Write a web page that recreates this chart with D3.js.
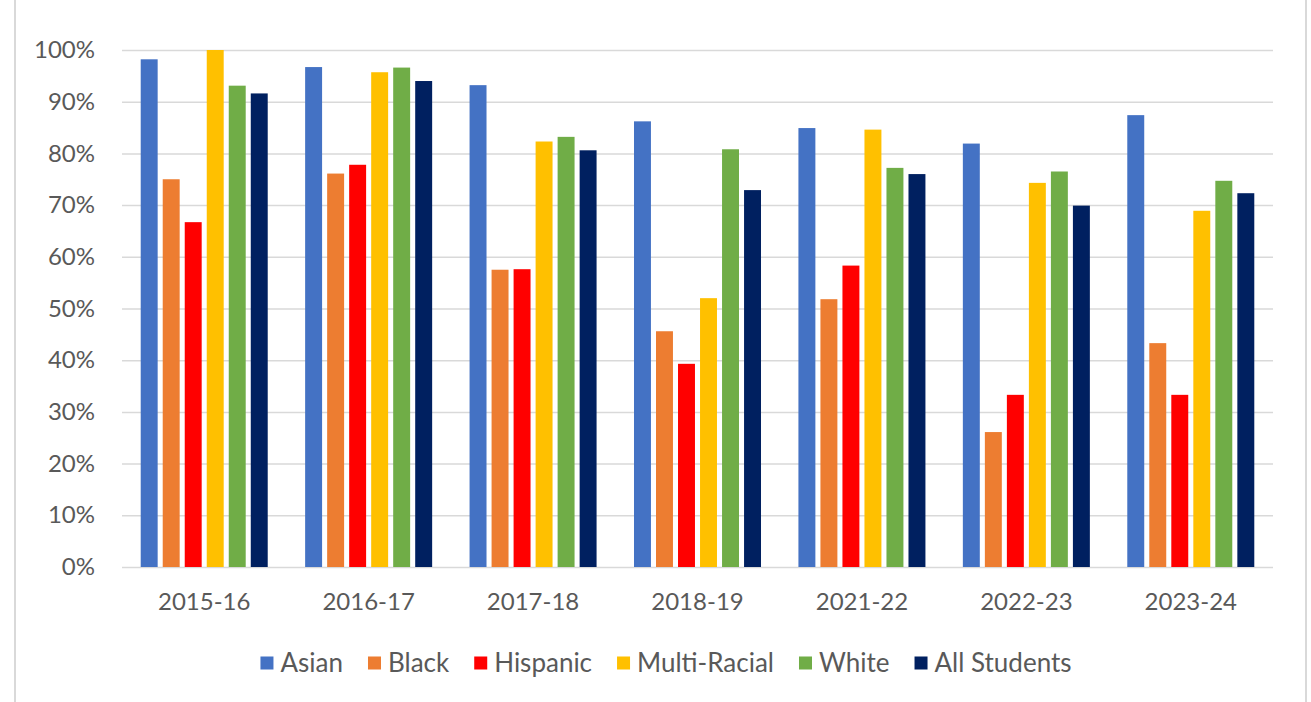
<!DOCTYPE html>
<html>
<head>
<meta charset="utf-8">
<script src="https://cdn.jsdelivr.net/npm/d3@7"></script>
<style>
  html, body { margin: 0; padding: 0; background: #ffffff; }
  .container { width: 1311px; height: 702px; }
  text { font-family: Lato, "Open Sans", sans-serif; fill: #595959; }
</style>
</head>
<body>
<div class="container"></div>
<script>
const WIDTH = 1311;
const HEIGHT = 702;
const PLOT_LEFT = 122;
const PLOT_RIGHT = 1273;
const PLOT_TOP = 50;
const PLOT_BOTTOM = 567;
const GRID_COLOR = "#d9d9d9";

// chart data
const years = ["2015-16", "2016-17", "2017-18", "2018-19", "2021-22", "2022-23", "2023-24"];
const groups = ["Asian", "Black", "Hispanic", "Multi-Racial", "White", "All Students"];
const colors = ["#4472c4", "#ed7d31", "#ff0000", "#ffc000", "#70ad47", "#002060"];

const asian       = [0.982, 0.967, 0.932, 0.862, 0.849, 0.819, 0.874];
const black       = [0.750, 0.761, 0.575, 0.456, 0.518, 0.261, 0.433];
const hispanic    = [0.667, 0.778, 0.576, 0.393, 0.583, 0.333, 0.333];
const multiRacial = [1.000, 0.957, 0.823, 0.520, 0.846, 0.743, 0.689];
const white       = [0.931, 0.966, 0.832, 0.808, 0.772, 0.765, 0.747];
const allStudents = [0.916, 0.940, 0.806, 0.729, 0.760, 0.699, 0.723];

const yTicks = [0, 0.1, 0.2, 0.3, 0.4, 0.5, 0.6, 0.7, 0.8, 0.9, 1.0];

var seriesValues = [asian, black, hispanic, multiRacial, white, allStudents];

var translate = function(x, y){
	return "translate(" + x + "," + y + ")";
};

var prepare = function(){
	var rows = [];
	for(var i = 0; i < years.length; i++){
		var bars = [];
		for(var j = 0; j < groups.length; j++){
			bars.push({"group": groups[j], "value": seriesValues[j][i], "color": colors[j]});
		}
		rows.push({"year": years[i], "bars": bars});
	}
	return rows;
};

var createChart = function(){
	var svg = d3.select(".container").append("svg")
		.attr("width", WIDTH)
		.attr("height", HEIGHT);

	svg.append("rect")
		.attr("width", WIDTH)
		.attr("height", HEIGHT)
		.attr("fill", "#ffffff");

	// frame edges of the cropped chart
	svg.append("line")
		.attr("x1", 15).attr("x2", 15)
		.attr("y1", 0).attr("y2", HEIGHT)
		.attr("stroke", GRID_COLOR).attr("stroke-width", 2);
	svg.append("line")
		.attr("x1", 1306).attr("x2", 1306)
		.attr("y1", 0).attr("y2", HEIGHT)
		.attr("stroke", GRID_COLOR).attr("stroke-width", 2);

	var x0 = d3.scaleBand()
		.domain(years)
		.range([PLOT_LEFT, PLOT_RIGHT]);

	var x1 = d3.scaleBand()
		.domain(groups)
		.range([0, x0.bandwidth()])
		.paddingInner(0.23)
		.paddingOuter(0.85);

	var y = d3.scaleLinear()
		.domain([0, 1])
		.range([PLOT_BOTTOM, PLOT_TOP]);

	var yAxis = d3.axisLeft(y)
		.tickValues(yTicks)
		.tickFormat(d3.format(".0%"))
		.tickSize(-(PLOT_RIGHT - PLOT_LEFT))
		.tickPadding(27);

	var gy = svg.append("g")
		.attr("transform", translate(PLOT_LEFT, 0))
		.call(yAxis);
	gy.select(".domain").remove();
	gy.selectAll(".tick line")
		.attr("stroke", GRID_COLOR)
		.attr("stroke-width", 1.5);
	gy.selectAll(".tick text")
		.style("font-size", "24px")
		.attr("fill", "#595959");

	var bars = svg.append("g").selectAll("g")
		.data(prepare())
		.enter().append("g")
		.attr("transform", function(d){ return translate(x0(d.year), 0); });

	bars.selectAll("rect")
		.data(function(d){ return d.bars; })
		.enter().append("rect")
		.attr("x", function(d){ return x1(d.group); })
		.attr("y", function(d){ return y(d.value); })
		.attr("width", x1.bandwidth())
		.attr("height", function(d){ return y(0) - y(d.value); })
		.attr("fill", function(d){ return d.color; });

	var xAxis = d3.axisBottom(x0)
		.tickSize(0)
		.tickPadding(26);

	var gx = svg.append("g")
		.attr("transform", translate(0, PLOT_BOTTOM))
		.call(xAxis);
	gx.select(".domain").remove();
	gx.selectAll(".tick text")
		.style("font-size", "24px")
		.attr("fill", "#595959");

	// legend
	var legend = svg.append("g");
	var items = legend.selectAll("g")
		.data(groups)
		.enter().append("g");
	items.append("rect")
		.attr("width", 13)
		.attr("height", 13)
		.attr("y", -6.5)
		.attr("fill", function(d, i){ return colors[i]; });
	items.append("text")
		.attr("x", 20)
		.attr("dy", "0.36em")
		.style("font-size", "26px")
		.text(function(d){ return d; });

	var cursor = 0;
	items.each(function(){
		var item = d3.select(this);
		var w = item.select("text").node().getComputedTextLength();
		item.attr("transform", translate(cursor, 0));
		cursor += 20 + w + 25;
	});
	var legendWidth = cursor - 25;
	legend.attr("transform", translate(666 - legendWidth / 2, 663));
};

window.onload = createChart;
</script>
</body>
</html>
